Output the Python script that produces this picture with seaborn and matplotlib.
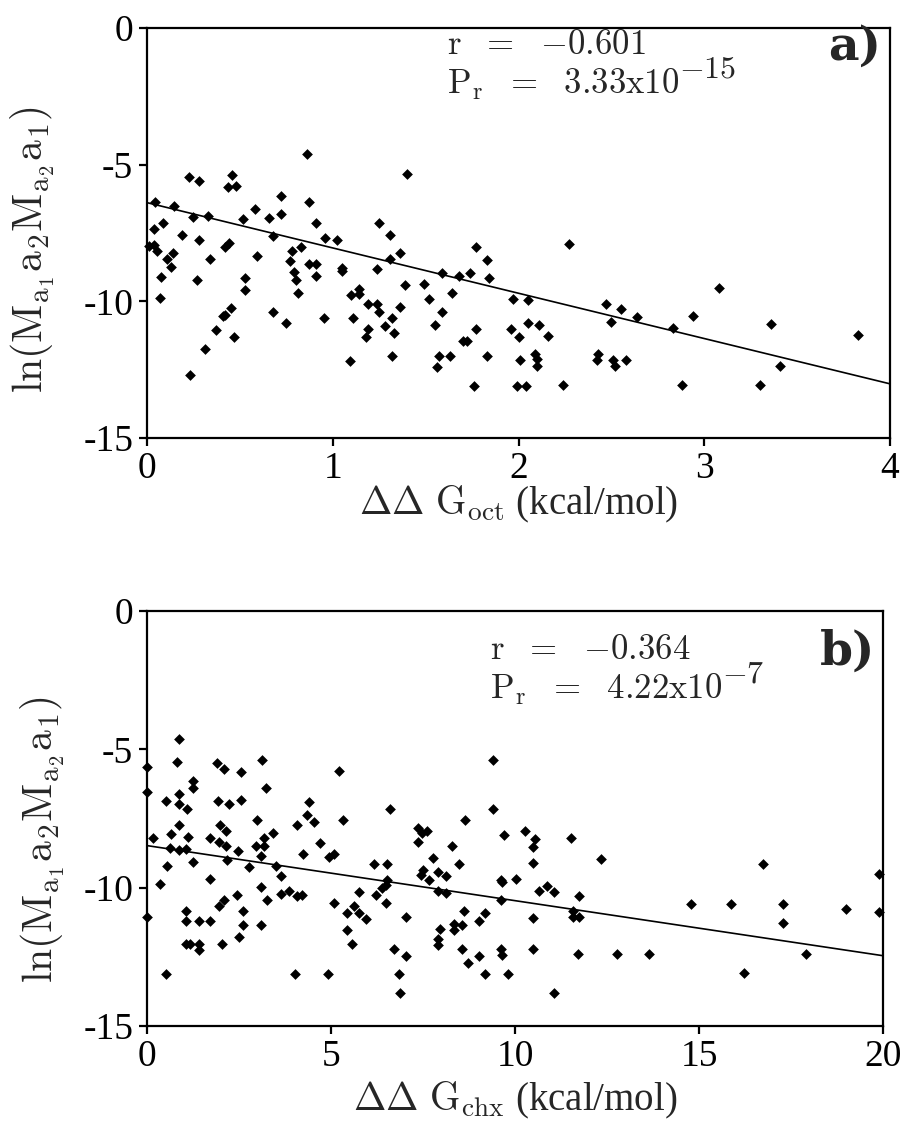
import numpy as np
import pandas as pd
import matplotlib
matplotlib.use("Agg")
import matplotlib.pyplot as plt
import seaborn as sns

# panel a: ddG_oct (kcal/mol) vs ln(M a M a)
oct_x = [0.045, 0.036, 0.013, 0.038, 0.052, 0.084, 0.07, 0.077, 0.106, 0.128, 0.138, 0.145,
         0.188, 0.228, 0.278, 0.246, 0.27, 0.278, 0.328, 0.339, 0.23, 0.31, 0.37, 0.41, 0.42,
         0.45, 0.47, 0.418, 0.44, 0.458, 0.436, 0.479, 0.519, 0.53, 0.53, 0.58, 0.59, 0.658,
         0.68, 0.68, 0.72, 0.72, 0.75, 0.77, 0.78, 0.79, 0.80, 0.81, 0.83, 0.86, 0.87, 0.87,
         0.91, 0.91, 0.91, 0.95, 0.957, 1.02, 1.05, 1.05, 1.09, 1.10, 1.14, 1.14, 1.11, 1.19,
         1.19, 1.18, 1.24, 1.24, 1.25, 1.25, 1.28, 1.31, 1.31, 1.32, 1.32, 1.33, 1.36, 1.36,
         1.39, 1.40, 1.49, 1.52, 1.55, 1.56, 1.57, 1.59, 1.59, 1.63, 1.64, 1.68, 1.70, 1.72,
         1.74, 1.76, 1.77, 1.77, 1.83, 1.83, 1.84, 1.96, 1.97, 1.99, 2.0, 2.01, 2.04, 2.05,
         2.05, 2.09, 2.10, 2.10, 2.11, 2.16, 2.24, 2.27, 2.42, 2.43, 2.47, 2.50, 2.51, 2.52,
         2.55, 2.58, 2.64, 2.83, 2.88, 2.94, 3.08, 3.30, 3.36, 3.41, 3.83]
oct_y = [-6.37, -7.37, -7.97, -7.95, -8.16, -7.12, -9.87, -9.11, -8.47, -8.74, -8.22, -6.53,
         -7.56, -5.46, -5.59, -6.91, -9.23, -7.74, -6.87, -8.46, -12.71, -11.73, -11.04, -10.52, -10.51,
         -10.26, -11.32, -8.03, -7.86, -5.36, -5.81, -5.79, -6.98, -9.13, -9.57, -6.61, -8.33, -6.95,
         -7.62, -10.40, -6.14, -6.80, -10.79, -8.52, -8.16, -8.93, -9.23, -9.71, -8.01, -4.62, -6.35, -8.62,
         -8.62, -7.12, -9.07, -10.62, -7.70, -7.74, -8.77, -8.89, -12.17, -9.78, -9.54, -9.72, -10.61, -10.10,
         -11.01, -11.31, -8.83, -10.10, -10.39, -7.13, -10.89, -7.57, -8.45, -10.62, -12.0, -11.15, -8.22, -10.22,
         -9.41, -5.35, -9.37, -9.93, -10.88, -12.41, -12.0, -8.96, -10.39, -12.0, -9.69, -9.07, -11.47, -11.47,
         -8.96, -13.09, -8.01, -11.01, -8.49, -12.0, -9.13, -11.0, -9.91, -13.09, -11.29, -12.16, -13.09, -9.96,
         -10.78, -11.94, -12.11, -12.36, -10.88, -11.28, -13.08, -7.91, -12.16, -11.94, -10.11, -10.77, -12.14, -12.36,
         -10.28, -12.14, -10.59, -10.96, -13.08, -10.52, -9.51, -13.05, -10.84, -12.36, -11.25]

# panel b: ddG_chx (kcal/mol) vs ln(M a M a)
chx_x = [0.0, 0.0, 0.01, 0.16, 0.34, 0.52, 0.52, 0.54, 0.63, 0.64, 0.82, 0.87, 0.87, 0.87, 0.88,
         0.88, 1.06, 1.08, 1.10, 1.26, 1.26, 1.26, 1.06, 1.06, 1.06, 1.17, 1.41, 1.41, 1.42, 1.70,
         1.71, 1.71, 1.91, 1.93, 1.95, 1.95, 1.99, 2.04, 2.08, 2.10, 2.15, 2.15, 2.17, 2.22, 2.44,
         2.48, 2.50, 2.56, 2.56, 2.60, 2.60, 2.77, 2.97, 2.98, 3.11, 3.11, 3.11, 3.13, 3.18, 3.18,
         3.24, 3.27, 3.42, 3.51, 3.65, 3.65, 3.87, 4.02, 4.07, 4.07, 4.20, 4.25, 4.35, 4.40, 4.54,
         4.71, 4.93, 4.94, 5.07, 5.07, 5.22, 5.33, 5.43, 5.43, 5.56, 5.61, 5.76, 5.76, 5.96, 6.18,
         6.21, 6.39, 6.48, 6.48, 6.52, 6.52, 6.61, 6.70, 6.85, 6.87, 7.03, 7.03, 7.36, 7.36, 7.45,
         7.48, 7.50, 7.61, 7.66, 7.77, 7.90, 7.90, 7.90, 7.90, 7.95, 8.12, 8.12, 8.30, 8.34, 8.34,
         8.48, 8.55, 8.55, 8.61, 8.63, 8.73, 9.01, 9.01, 9.17, 9.19, 9.39, 9.41, 9.61, 9.64, 9.61,
         9.61, 9.64, 9.70, 9.82, 10.02, 10.28, 10.48, 10.48, 10.48, 10.48, 10.53, 10.64, 10.88, 11.07, 11.07,
         11.53, 11.58, 11.58, 11.71, 11.75, 11.75, 12.34, 12.76, 13.63, 14.79, 15.86, 16.22, 16.74, 17.27, 17.29,
         17.91, 18.99, 19.88, 19.88]
chx_y = [-5.63, -6.56, -11.06, -8.19, -9.87, -6.86, -13.13, -9.22, -8.55, -8.05, -5.47, -4.64, -6.63, -6.99, -7.75,
         -8.64, -8.62, -7.14, -8.17, -6.16, -6.38, -9.09, -10.84, -11.19, -12.04, -12.04, -12.04, -12.24, -11.19, -8.21,
         -9.69, -11.19, -5.51, -6.87, -8.35, -10.66, -7.73, -12.04, -5.72, -10.43, -7.97, -8.49, -8.99, -6.97, -10.26,
         -8.67, -11.77, -5.83, -6.82, -10.86, -11.35, -9.26, -8.50, -7.57, -8.85, -9.96, -11.34, -5.39, -8.21, -8.49,
         -6.39, -10.44, -8.02, -9.23, -9.57, -10.23, -10.13, -13.13, -7.75, -10.31, -10.28, -8.78, -7.38, -6.92, -7.62,
         -8.38, -13.13, -8.89, -8.78, -10.54, -5.80, -7.55, -10.93, -11.53, -12.04, -10.66, -10.93, -10.15, -11.12, -9.14,
         -10.25, -10.03, -9.92, -10.54, -9.14, -9.73, -7.14, -12.22, -13.13, -13.82, -11.06, -12.46, -7.86, -8.36, -9.54,
         -8.02, -9.37, -7.95, -9.73, -8.93, -9.44, -10.13, -11.86, -12.06, -11.48, -9.57, -10.21, -8.48, -11.30, -11.54,
         -9.14, -11.35, -12.22, -10.83, -7.56, -12.74, -11.20, -12.46, -13.13, -10.93, -5.37, -7.14, -9.73, -9.78, -10.43,
         -12.22, -12.43, -8.10, -13.13, -9.67, -7.95, -8.54, -9.11, -11.08, -12.22, -8.25, -10.13, -9.94, -10.15, -13.81,
         -8.22, -10.83, -11.05, -12.41, -10.31, -11.05, -8.96, -12.41, -12.41, -10.58, -10.60, -13.09, -9.14, -11.27, -10.60,
         -12.38, -10.78, -9.51, -10.88]

# fitted lines (end points)
fit_oct_x = [0, 4]
fit_oct_y = [-6.39, -13.02]
fit_chx_x = [0, 20]
fit_chx_y = [-8.48, -12.46]

# r, mantissa, exponent
stats_oct = ["0.601", "3.33", "15"]
stats_chx = ["0.364", "4.22", "7"]

sns.set_style("ticks")
plt.rcParams["font.family"] = ["Liberation Serif", "DejaVu Serif"]
plt.rcParams["mathtext.fontset"] = "cm"
plt.rcParams["axes.linewidth"] = 1.6
plt.rcParams["xtick.major.width"] = 1.6
plt.rcParams["ytick.major.width"] = 1.6
plt.rcParams["xtick.major.size"] = 6
plt.rcParams["ytick.major.size"] = 6
plt.rcParams["xtick.direction"] = "out"
plt.rcParams["ytick.direction"] = "out"

fig = plt.figure(figsize=(9.06, 11.25), dpi=100)
ax1 = fig.add_axes([0.1623, 0.6107, 0.8201, 0.3644])
ax2 = fig.add_axes([0.1623, 0.0880, 0.8124, 0.3689])

ylab = r"$\mathrm{ln(M_{a_1}a_2M_{a_2}a_1)}$"

panels = [
    (ax1, oct_x, oct_y, fit_oct_x, fit_oct_y, stats_oct, "a)", (0, 4), [0, 1, 2, 3, 4],
     r"$\Delta\Delta\ \mathrm{G_{oct}}$ (kcal/mol)", (0.404, 0.957), (0.404, 0.862), (0.988, 0.955),
     (0.5, -0.113), (-0.121, 0.459)),
    (ax2, chx_x, chx_y, fit_chx_x, fit_chx_y, stats_chx, "b)", (0, 20), [0, 5, 10, 15, 20],
     r"$\Delta\Delta\ \mathrm{G_{chx}}$ (kcal/mol)", (0.466, 0.905), (0.466, 0.812), (0.990, 0.903),
     (0.5, -0.13), (-0.109, 0.448)),
]

for ax, xs, ys, fx, fy, st, tag, xlim, xt, xlab, pr, pp, pt, xl_pos, yl_pos in panels:
    df = pd.DataFrame({"x": xs, "y": ys})
    sns.scatterplot(data=df, x="x", y="y", marker="D", s=30, color="black",
                    linewidth=0, ax=ax, zorder=3, clip_on=False)
    sns.lineplot(x=fx, y=fy, color="black", linewidth=1.2, ax=ax)
    ax.set_xlim(*xlim)
    ax.set_ylim(-15, 0)
    ax.set_xticks(xt)
    ax.set_yticks([0, -5, -10, -15])
    ax.set_yticklabels(["0", "-5", "-10", "-15"])
    ax.tick_params(labelsize=27, colors="black", pad=4)
    ax.set_xlabel(xlab, fontsize=28)
    ax.set_ylabel(ylab, fontsize=30)
    ax.xaxis.set_label_coords(*xl_pos)
    ax.yaxis.set_label_coords(*yl_pos)
    for s in ax.spines.values():
        s.set_visible(True)
        s.set_color("black")
    ax.text(pr[0], pr[1], r"$\mathrm{r\ \ =\ \ {-}" + st[0] + "}$",
            transform=ax.transAxes, fontsize=25, va="center", ha="left")
    t = ax.text(pp[0], pp[1], r"$\mathrm{P_r\ \ =\ \ " + st[1] + "x10}$",
                transform=ax.transAxes, fontsize=25, va="center", ha="left")
    ax.annotate(r"$\mathrm{{-}" + st[2] + "}$", xy=(1.0, 0.5), xycoords=t,
                fontsize=23, va="bottom", ha="left")
    ax.text(pt[0], pt[1], tag, transform=ax.transAxes, family="DejaVu Serif",
            fontweight="bold", fontsize=34, va="center", ha="right")

fig.savefig("out.png", dpi=100)
